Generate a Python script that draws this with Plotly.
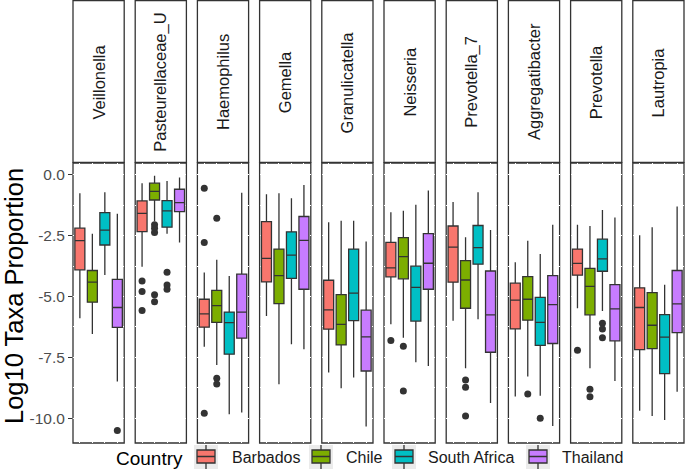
import plotly.graph_objects as go
from plotly.subplots import make_subplots

genera = ["Veillonella", "Pasteurellaceae_U", "Haemophilus", "Gemella", "Granulicatella",
          "Neisseria", "Prevotella_7", "Aggregatibacter", "Prevotella", "Lautropia"]
countries = ["Barbados", "Chile", "South Africa", "Thailand"]
colors = ["#F8766D", "#7CAE00", "#00BFC4", "#C77CFF"]

# per genus: [Barbados, Chile, South Africa, Thailand]
lower_whisker = [
    [-5.89, -6.54, -4.11, -8.49],
    [-3.77, -1.90, -2.42, -2.78],
    [-7.06, -7.81, -9.84, -9.77],
    [-5.80, -8.60, -6.96, -7.17],
    [-8.12, -8.77, -8.33, -10.34],
    [-6.14, -6.69, -7.70, -7.85],
    [-5.99, -7.95, -5.93, -9.38],
    [-9.11, -8.29, -9.08, -10.32],
    [-5.48, -7.95, -5.59, -8.47],
    [-9.69, -9.91, -10.07, -8.91],
]
q1 = [
    [-3.90, -5.23, -2.88, -6.27],
    [-2.33, -1.03, -2.15, -1.51],
    [-6.26, -6.06, -7.37, -6.71],
    [-4.40, -5.29, -4.25, -4.70],
    [-6.34, -6.99, -5.99, -8.06],
    [-4.19, -4.27, -6.01, -4.70],
    [-4.41, -5.48, -3.67, -7.29],
    [-6.33, -5.97, -7.01, -6.93],
    [-4.12, -5.75, -3.96, -6.82],
    [-7.18, -7.14, -8.17, -6.48],
]
median = [
    [-2.70, -4.41, -2.27, -5.45],
    [-1.58, -0.68, -1.48, -1.14],
    [-5.71, -5.37, -6.07, -5.64],
    [-3.43, -4.14, -3.30, -2.69],
    [-5.55, -6.14, -4.86, -6.66],
    [-3.82, -3.36, -4.62, -3.63],
    [-2.97, -4.32, -2.99, -5.75],
    [-5.15, -5.11, -6.06, -5.33],
    [-3.64, -4.58, -3.45, -5.51],
    [-5.45, -6.18, -6.67, -5.30],
]
q3 = [
    [-2.19, -3.93, -1.55, -4.29],
    [-1.07, -0.34, -1.06, -0.59],
    [-5.11, -4.75, -5.64, -4.08],
    [-1.92, -3.05, -2.34, -1.71],
    [-4.33, -4.92, -3.05, -5.56],
    [-2.77, -2.58, -3.75, -2.41],
    [-2.10, -3.52, -2.08, -3.95],
    [-4.45, -4.18, -5.03, -4.14],
    [-3.05, -3.84, -2.64, -4.51],
    [-4.64, -4.84, -5.74, -3.93],
]
upper_whisker = [
    [-0.75, -2.42, -0.71, -1.60],
    [-0.34, -0.03, -0.25, -0.11],
    [-4.01, -3.49, -4.15, -0.73],
    [-0.79, -0.75, -0.96, -0.41],
    [-1.95, -1.88, -1.88, -2.74],
    [-1.53, -1.47, -1.23, -0.64],
    [-1.11, -2.56, -0.71, -2.26],
    [-3.59, -2.71, -3.25, -2.05],
    [-2.05, -2.10, -1.44, -1.75],
    [-2.48, -2.15, -4.51, -1.30],
]
outliers = [
    [[], [], [], [-10.51]],
    [[-4.36, -4.79, -5.57], [-2.05, -2.19, -2.37, -4.93, -5.21], [-4.00, -4.52, -4.70], []],
    [[-0.55, -2.78, -9.80], [-1.78, -8.36, -8.59], [], []],
    [[], [], [], []],
    [[], [], [], []],
    [[-6.81], [-7.04, -8.88], [], []],
    [[], [-8.43, -8.73, -9.91], [], []],
    [[], [-9.01], [-10.00], []],
    [[-7.21], [-8.81, -9.12], [-6.10, -6.33, -6.69], []],
    [[], [], [], []],
]
y_ticks = [0.0, -2.5, -5.0, -7.5, -10.0]
y_ticklabels = ["0.0", "-2.5", "-5.0", "-7.5", "-10.0"]

W, H = 685, 469
ML, MR, MT, MB = 73, 1, 163, 26
PW, PH = W - ML - MR, H - MT - MB


def X(px):
    return (px - ML) / PW


def Y(py):
    return 1 - (py - MT) / PH


FONT = "Liberation Sans, Arial, sans-serif"
EDGE = "#333333"

fig = make_subplots(rows=1, cols=10, shared_yaxes=True, horizontal_spacing=11.0 / PW)

for g in range(len(genera)):
    for c in range(len(countries)):
        fig.add_trace(go.Box(
            x=[c], q1=[q1[g][c]], median=[median[g][c]], q3=[q3[g][c]],
            lowerfence=[lower_whisker[g][c]], upperfence=[upper_whisker[g][c]],
            fillcolor=colors[c], line=dict(color=EDGE, width=1.3),
            whiskerwidth=0, width=0.8, boxpoints=False, showlegend=False,
            name=countries[c]), row=1, col=g + 1)
        if outliers[g][c]:
            fig.add_trace(go.Scatter(
                x=[c] * len(outliers[g][c]), y=outliers[g][c], mode="markers",
                marker=dict(color=EDGE, size=7), showlegend=False, hoverinfo="skip"),
                row=1, col=g + 1)

shapes = []
annotations = []
for g in range(len(genera)):
    axn = "" if g == 0 else str(g + 1)
    fig.update_xaxes(row=1, col=g + 1, range=[-0.55, 3.55], tickvals=[0, 1, 2, 3],
                     showticklabels=False, ticks="", showgrid=True, gridcolor="white",
                     gridwidth=1, zeroline=False, showline=False)
    # panel border (below white gridlines)
    shapes.append(dict(type="rect", xref=f"x{axn} domain", yref=f"y{axn} domain",
                       x0=0, x1=1, y0=0, y1=1, line=dict(color=EDGE, width=1.3),
                       layer="below"))
    dom = fig.layout[f"xaxis{axn}"].domain
    # strip
    shapes.append(dict(type="rect", xref="paper", yref="paper", x0=dom[0], x1=dom[1],
                       y0=Y(162.3), y1=Y(0.6), fillcolor="white",
                       line=dict(color=EDGE, width=1.3), layer="below"))
    annotations.append(dict(text=genera[g], xref="paper", yref="paper",
                            x=(dom[0] + dom[1]) / 2, y=Y(82), textangle=-90,
                            showarrow=False, xanchor="center", yanchor="middle",
                            font=dict(family=FONT, size=16.5, color="#1A1A1A")))

fig.update_yaxes(range=[-11.02, 0.49], tickvals=y_ticks, ticktext=y_ticklabels,
                 showgrid=True, gridcolor="white", gridwidth=1, zeroline=False,
                 showline=False,
                 minor=dict(dtick=1.25, tick0=0, showgrid=True, gridcolor="white", gridwidth=1))
fig.update_yaxes(row=1, col=1, ticks="outside", ticklen=4, tickcolor=EDGE, tickwidth=1.2,
                 tickfont=dict(family=FONT, size=15.5, color="#4D4D4D"))

# y axis title
annotations.append(dict(text="Log10 Taxa Proportion", xref="paper", yref="paper",
                        x=X(14), y=Y(296), textangle=-90, showarrow=False,
                        xanchor="center", yanchor="middle",
                        font=dict(family=FONT, size=25.5, color="black")))

# legend (drawn manually, ggplot-style)
annotations.append(dict(text="Country", xref="paper", yref="paper", x=X(114), y=Y(458),
                        xanchor="left", yanchor="middle", showarrow=False,
                        font=dict(family=FONT, size=19, color="black")))
key_left = [194, 309, 392, 526]
label_left = [230, 344, 426, 560]
for c in range(len(countries)):
    kl = key_left[c]
    kc = kl + 12
    shapes.append(dict(type="rect", xref="paper", yref="paper", x0=X(kl), x1=X(kl + 24),
                       y0=Y(469), y1=Y(445), fillcolor="#EBEBEB", line=dict(width=0),
                       layer="above"))
    shapes.append(dict(type="line", xref="paper", yref="paper", x0=X(kc), x1=X(kc),
                       y0=Y(469), y1=Y(445), line=dict(color=EDGE, width=1.3), layer="above"))
    shapes.append(dict(type="rect", xref="paper", yref="paper", x0=X(kl + 3), x1=X(kl + 21),
                       y0=Y(463), y1=Y(450), fillcolor=colors[c],
                       line=dict(color=EDGE, width=1.3), layer="above"))
    shapes.append(dict(type="line", xref="paper", yref="paper", x0=X(kl + 3), x1=X(kl + 21),
                       y0=Y(456.5), y1=Y(456.5), line=dict(color=EDGE, width=1.5),
                       layer="above"))
    annotations.append(dict(text=countries[c], xref="paper", yref="paper",
                            x=X(label_left[c]), y=Y(457), xanchor="left", yanchor="middle",
                            showarrow=False,
                            font=dict(family=FONT, size=16, color="#1A1A1A")))

fig.update_layout(width=W, height=H, margin=dict(l=ML, r=MR, t=MT, b=MB),
                  paper_bgcolor="white", plot_bgcolor="white", boxmode="overlay",
                  showlegend=False, shapes=shapes, annotations=annotations,
                  font=dict(family=FONT))

fig.write_html("out.html", config={"displayModeBar": False},
               post_script="document.body.style.margin='0';document.body.style.overflow='hidden';")
